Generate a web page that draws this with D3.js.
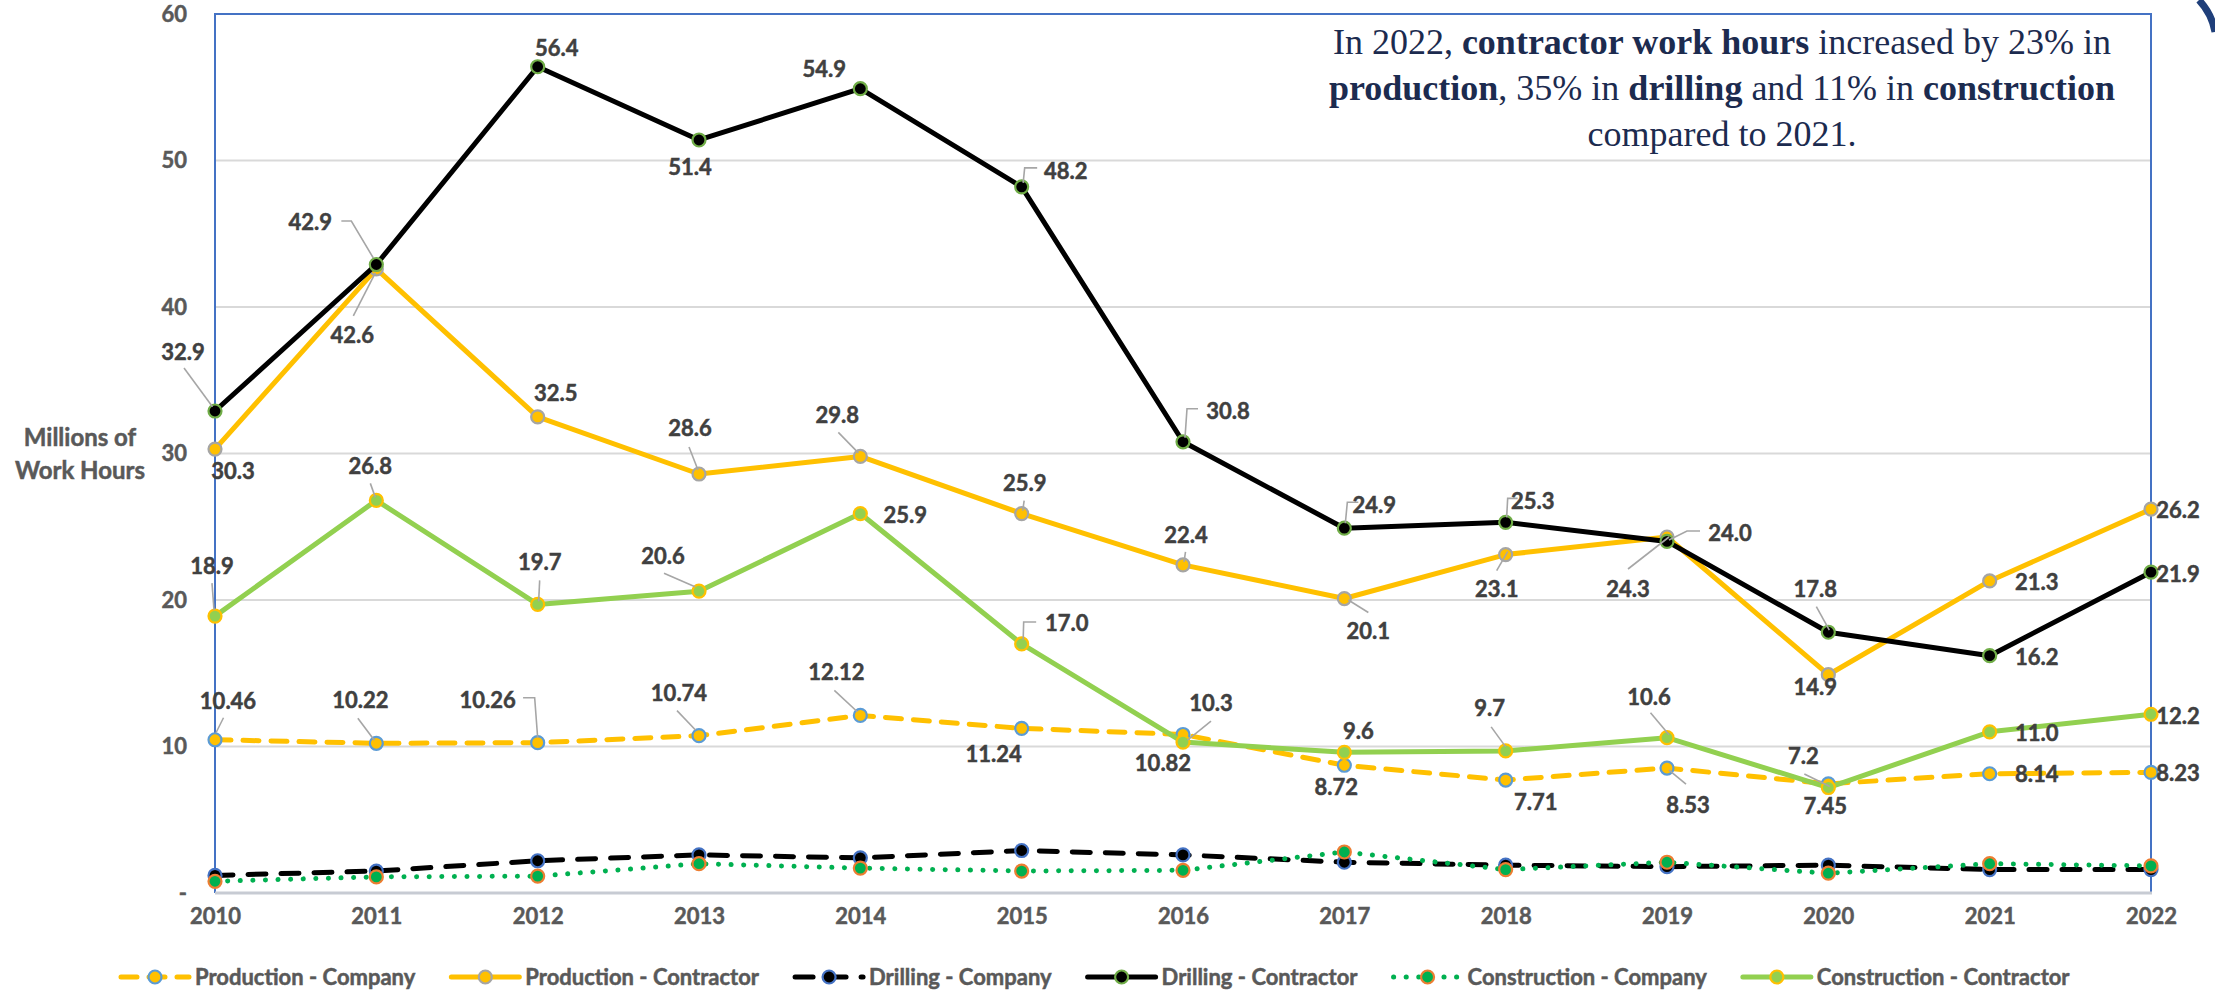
<!DOCTYPE html>
<html><head><meta charset="utf-8">
<script src="https://cdn.jsdelivr.net/npm/d3@7/dist/d3.min.js"></script>
<style>body{margin:0;background:#fff;} svg{display:block;}</style>
</head><body><svg id="c" width="2215" height="990"></svg>
<script>
// ---------------- DATA ----------------
const years = [2010,2011,2012,2013,2014,2015,2016,2017,2018,2019,2020,2021,2022];
const yTicks = [0,10,20,30,40,50,60];
const yTickLabels = ["-","10","20","30","40","50","60"];
const seriesNames = ["Production - Company","Production - Contractor","Drilling - Company","Drilling - Contractor","Construction - Company","Construction - Contractor"];
const prodCompany     = [10.46,10.22,10.26,10.74,12.12,11.24,10.82,8.72,7.71,8.53,7.45,8.14,8.23];
const prodContractor  = [30.3,42.6,32.5,28.6,29.8,25.9,22.4,20.1,23.1,24.3,14.9,21.3,26.2];
const drillCompany    = [1.2,1.5,2.2,2.6,2.4,2.9,2.6,2.1,1.9,1.8,1.9,1.6,1.6];
const drillContractor = [32.9,42.9,56.4,51.4,54.9,48.2,30.8,24.9,25.3,24.0,17.8,16.2,21.9];
const constCompany    = [0.8,1.1,1.15,2.0,1.7,1.5,1.55,2.8,1.6,2.1,1.35,2.0,1.85];
const constContractor = [18.9,26.8,19.7,20.6,25.9,17.0,10.3,9.6,9.7,10.6,7.2,11.0,12.2];
const noteLines = [
  [["In 2022, ",false],["contractor work hours",true],[" increased by 23% in",false]],
  [["production",true],[", 35% in ",false],["drilling",true],[" and 11% in ",false],["construction",true]],
  [["compared to 2021.",false]]
];
const yTitle = ["Millions of","Work Hours"];

// ---------------- LAYOUT / STYLE ----------------
const W = 2215, H = 990;
const plot = {left:215, right:2151, top:14, bottom:893};
const styles = [
  {stroke:"#FFC000", dash:"16 12", cap:"round", fill:"#FFC000", mstroke:"#5B9BD5"},
  {stroke:"#FFC000", dash:null, cap:"round", fill:"#FFC000", mstroke:"#A5A5A5"},
  {stroke:"#000000", dash:"18 15", cap:"round", fill:"#000000", mstroke:"#4472C4"},
  {stroke:"#000000", dash:null, cap:"round", fill:"#000000", mstroke:"#70AD47"},
  {stroke:"#00B050", dash:"0.1 12.5", cap:"round", fill:"#00B050", mstroke:"#ED7D31"},
  {stroke:"#92D050", dash:null, cap:"round", fill:"#92D050", mstroke:"#FFC000"}
];
const labelOffsets = {
  0: [[13,-39],[-16,-43],[-50,-43],[-20,-43],[-24,-43],[-28,26],[-20,29],[-8,22],[30,22],[21,37],[-3,22],[47,0],[27,1]],
  1: [[18,22],[-24,66],[18,-24],[-9,-46],[-23,-41],[3,-30],[3,-30],[24,33],[-9,34],[-39,52],[-13,12],[47,1],[27,1]],
  3: [[-32,-59],[-66,-42],[19,-19],[-9,27],[-36,-20],[44,-16],[45,-31],[30,-23],[27,-21],[63,-8],[-13,-43],[47,1],[27,2]],
  5: [[-3,-50],[-6,-34],[2,-42],[-36,-35],[45,2],[45,-21],[28,-39],[14,-21],[-16,-43],[-18,-41],[-25,-31],[47,1],[27,2]]
};
const leaders = {
  0: [[[8.5,-22],[1,-7]],[[-18.5,-25],[-2,-3]],[[-14.6,-45],[-3,-45],[0,-5]],[[-22,-25],[-3.5,-5.7]],[[-26,-25],[-3,-3.7]],null,null,null,null,[[2,2],[19,16]],null,null,null],
  1: [null,[[-23,47],[-1,4]],null,[[-10,-27],[-1,-4]],[[-22,-24],[-2,-3.5]],[[2.5,-13],[1,-3]],[[2.5,-13],[1,-3]],[[24,14],[4,1.5]],[[-9,16],[2,-3]],[[-39,32],[2,0]],null,null,null],
  3: [[[-31,-43],[-2.5,-4.3]],[[-35,-43.5],[-25,-43.5],[-3,-6.5]],null,null,null,[[15.5,-19],[3,-19],[1.5,-4]],[[15,-33],[4,-33],[2,-4]],[[14,-26],[3,-26],[1,-5]],[[12,-24],[2,-24],[1,-5]],[[33,-10.4],[20,-10.4],[2,-1.4]],[[-12,-25.5],[1,-2]],null,null],
  5: [[[-3,-33],[-1,-6]],[[-6,-17],[-1,-3]],[[2,-24],[1,-3]],[[-35,-18],[-4,-4.5]],null,[[14.5,-22],[2,-22],[1.5,-4]],[[28,-21],[4.5,-2]],null,[[-14.5,-24],[0,-4]],[[-16.5,-25],[2,-3]],[[-24,-13.5],[1.5,-1]],null,null]
};
const labelFormats = {0:d3.format(".2f"),1:d3.format(".1f"),3:d3.format(".1f"),5:d3.format(".1f")};

const allSeries = [prodCompany,prodContractor,drillCompany,drillContractor,constCompany,constContractor];
const FONT = "Lato, 'Open Sans', sans-serif";
const FS = 22;

const svg = d3.select("#c");
svg.append("rect").attr("width",W).attr("height",H).attr("fill","#fff");

const x = d3.scaleLinear().domain([years[0],years[years.length-1]]).range([plot.left,plot.right]);
const y = d3.scaleLinear().domain([0,60]).range([plot.bottom,plot.top]);

function heavy(sel, color){
  sel.attr("font-family",FONT).attr("font-weight",700).attr("font-size",FS).attr("fill",color)
     .attr("stroke",color).attr("stroke-width",0.5);
}

// gridlines
svg.append("g").selectAll("line").data(yTicks.filter(d=>d>0 && d<60)).join("line")
  .attr("x1",plot.left).attr("x2",plot.right).attr("y1",d=>y(d)).attr("y2",d=>y(d))
  .attr("stroke","#D9D9D9").attr("stroke-width",2);

// blue frame
svg.append("path")
  .attr("d",`M${plot.left},${plot.bottom}V${y(60)}H${plot.right}V${plot.bottom}`)
  .attr("fill","none").attr("stroke","#4472C4").attr("stroke-width",2);
svg.append("line").attr("x1",plot.left).attr("x2",plot.right+1).attr("y1",plot.bottom).attr("y2",plot.bottom)
  .attr("stroke","#C7CBD3").attr("stroke-width",3);

// y axis
const yAxis = d3.axisLeft(y).tickValues(yTicks).tickFormat((d,i)=>yTickLabels[i]).tickSize(0).tickPadding(28);
const gy = svg.append("g").attr("transform",`translate(${plot.left},0)`).call(yAxis);
gy.select(".domain").remove();
heavy(gy.selectAll("text"),"#595959");

// x axis
const xAxis = d3.axisBottom(x).tickValues(years).tickFormat(d3.format("d")).tickSize(0).tickPadding(15);
const gx = svg.append("g").attr("transform",`translate(0,${plot.bottom})`).call(xAxis);
gx.select(".domain").remove();
heavy(gx.selectAll("text"),"#595959");

// y title
const yt = svg.append("g").selectAll("text").data(yTitle).join("text")
  .attr("x",80).attr("y",(d,i)=>446+i*33).attr("text-anchor","middle").text(d=>d);
heavy(yt,"#595959"); yt.attr("font-size",24);

// series
const line = d3.line().x((d,i)=>x(years[i])).y(d=>y(d));
const gs = svg.append("g");
allSeries.forEach((vals,si)=>{
  const st = styles[si];
  const g = gs.append("g");
  g.append("path").datum(vals).attr("d",line).attr("fill","none")
    .attr("stroke",st.stroke).attr("stroke-width",5).attr("stroke-linecap",st.cap).attr("stroke-linejoin","round")
    .attr("stroke-dasharray",st.dash);
  g.selectAll("circle").data(vals).join("circle")
    .attr("cx",(d,i)=>x(years[i])).attr("cy",d=>y(d)).attr("r",6.5)
    .attr("fill",st.fill).attr("stroke",st.mstroke).attr("stroke-width",2.2);
});

// leaders + labels
const gl = svg.append("g");
const gt = svg.append("g");
Object.keys(labelOffsets).forEach(k=>{
  const si = +k, vals = allSeries[si];
  vals.forEach((v,i)=>{
    const px = x(years[i]), py = y(v);
    const L = leaders[si][i];
    if(L){
      gl.append("path").attr("d","M"+L.map(p=>[px+p[0],py+p[1]].join(",")).join("L"))
        .attr("fill","none").attr("stroke","#A6A6A6").attr("stroke-width",1.6);
    }
    const o = labelOffsets[si][i];
    const t = gt.append("text").attr("x",px+o[0]).attr("y",py+o[1]).attr("dy","0.36em")
      .attr("text-anchor","middle").text(labelFormats[si](v));
    heavy(t,"#404040");
  });
});

// legend
const lg = svg.append("g");
let lx = 118; const ly = 977, symW = 74;
seriesNames.forEach((name,si)=>{
  const st = styles[si];
  const g = lg.append("g");
  g.append("line").attr("x1",lx+3).attr("x2",lx+symW-3).attr("y1",ly).attr("y2",ly)
    .attr("stroke",st.stroke).attr("stroke-width",5).attr("stroke-linecap",st.cap)
    .attr("stroke-dasharray",st.dash);
  g.append("circle").attr("cx",lx+symW/2).attr("cy",ly).attr("r",6.5)
    .attr("fill",st.fill).attr("stroke",st.mstroke).attr("stroke-width",2.2);
  const t = g.append("text").attr("x",lx+symW+3).attr("y",ly).attr("dy","0.36em").text(name);
  heavy(t,"#595959");
  lx += symW + 3 + t.node().getComputedTextLength() + 33;
});

// annotation
const note = svg.append("g");
noteLines.forEach((parts,li)=>{
  const t = note.append("text").attr("x",1722).attr("y",54+li*46).attr("text-anchor","middle")
    .attr("font-family","'Liberation Serif', serif").attr("font-size",36).attr("fill","#1C2B4F");
  parts.forEach(p=>t.append("tspan").attr("font-weight",p[1]?700:400).text(p[0]));
});

// corner decoration
svg.append("path").attr("d","M2199,0 Q2212,14 2215,32").attr("fill","none")
  .attr("stroke","#1F3F7A").attr("stroke-width",7);
</script></body></html>
